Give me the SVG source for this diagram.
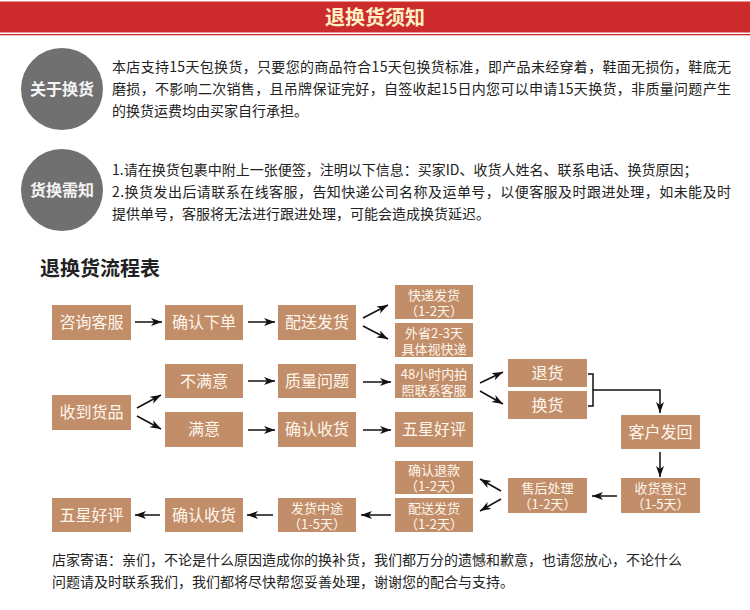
<svg xmlns="http://www.w3.org/2000/svg" width="750" height="610" viewBox="0 0 750 610">
<defs>
<marker id="ah" markerUnits="userSpaceOnUse" markerWidth="12" markerHeight="9" refX="11" refY="4" orient="auto">
<path d="M0,0 L11,4 L0,8 L3,4 Z" fill="#111"/>
</marker>
<style>
text{font-family:"Noto Sans CJK SC","Liberation Sans",sans-serif;}
.box{fill:#c28e6a;}
.bt{fill:#fff6ec;font-size:16px;text-anchor:middle;}
.bs{fill:#fff6ec;font-size:13px;text-anchor:middle;}
.p{fill:#222;font-size:14px;}
.ct{fill:#f4f4f4;font-size:16px;font-weight:bold;text-anchor:middle;}
.cir{fill:#707070;}
.c{stroke:#111;stroke-width:1.5;fill:none;}
.ca{stroke:#111;stroke-width:1.5;fill:none;marker-end:url(#ah);}
</style>
</defs>
<rect width="750" height="610" fill="#ffffff"/>
<g id="header">
<rect x="0" y="1.5" width="750" height="31" fill="#cc2a2c"/>
<rect x="0" y="34" width="750" height="1.3" fill="#cc2a2c"/>
<text x="375" y="25" font-size="20" font-weight="bold" fill="#fff1c4" text-anchor="middle">退换货须知</text>
</g>
<g id="about">
<circle class="cir" cx="62" cy="89" r="41"/>
<text class="ct" x="62" y="95">关于换货</text>
<text class="p" x="112" y="72" textLength="619">本店支持15天包换货，只要您的商品符合15天包换货标准，即产品未经穿着，鞋面无损伤，鞋底无</text>
<text class="p" x="112" y="94" textLength="619">磨损，不影响二次销售，且吊牌保证完好，自签收起15日内您可以申请15天换货，非质量问题产生</text>
<text class="p" x="112" y="116">的换货运费均由买家自行承担。</text>
</g>
<g id="notice">
<circle class="cir" cx="62" cy="190" r="41"/>
<text class="ct" x="62" y="196">货换需知</text>
<text class="p" x="112" y="175">1.请在换货包裹中附上一张便签，注明以下信息：买家ID、收货人姓名、联系电话、换货原因；</text>
<text class="p" x="112" y="197" textLength="619">2.换货发出后请联系在线客服，告知快递公司名称及运单号，以便客服及时跟进处理，如未能及时</text>
<text class="p" x="112" y="219">提供单号，客服将无法进行跟进处理，可能会造成换货延迟。</text>
</g>
<text id="flow-title" x="40" y="276" font-size="20" font-weight="bold" fill="#222">退换货流程表</text>
<g id="connectors">
<line class="ca" x1="135" y1="322" x2="162" y2="322"/>
<line class="ca" x1="248" y1="322" x2="275" y2="322"/>
<line class="ca" x1="363" y1="318" x2="388" y2="305"/>
<line class="ca" x1="363" y1="326" x2="388" y2="339"/>
<line class="ca" x1="137" y1="408" x2="161" y2="395"/>
<line class="ca" x1="137" y1="416" x2="161" y2="429"/>
<line class="ca" x1="248" y1="381" x2="275" y2="381"/>
<line class="ca" x1="363" y1="382" x2="391" y2="382"/>
<line class="ca" x1="248" y1="430" x2="275" y2="430"/>
<line class="ca" x1="363" y1="430" x2="391" y2="430"/>
<line class="ca" x1="480" y1="383" x2="503" y2="372"/>
<line class="ca" x1="480" y1="391" x2="503" y2="404"/>
<path class="c" d="M588,374 H593 V406 H588"/>
<path class="ca" d="M593,390 H660 V413"/>
<line class="ca" x1="660" y1="452" x2="660" y2="477"/>
<line class="ca" x1="617" y1="496" x2="592" y2="496"/>
<line class="ca" x1="501" y1="491" x2="480" y2="479"/>
<line class="ca" x1="501" y1="499" x2="480" y2="511"/>
<line class="ca" x1="391" y1="515" x2="361" y2="515"/>
<line class="ca" x1="273" y1="515" x2="247" y2="515"/>
<line class="ca" x1="160" y1="515" x2="135" y2="515"/>
</g>
<g id="n1"><rect class="box" x="52" y="305" width="79" height="35"/><text class="bt" x="91.5" y="328">咨询客服</text></g>
<g id="n2"><rect class="box" x="165" y="305" width="78" height="35"/><text class="bt" x="204" y="328">确认下单</text></g>
<g id="n3"><rect class="box" x="278" y="305" width="78" height="35"/><text class="bt" x="317" y="328">配送发货</text></g>
<g id="n4"><rect class="box" x="395" y="285" width="78" height="34"/><text class="bs" x="434" y="300">快递发货</text><text class="bs" x="434" y="316">（1-2天）</text></g>
<g id="n5"><rect class="box" x="395" y="323" width="78" height="34"/><text class="bs" x="434" y="338">外省2-3天</text><text class="bs" x="434" y="354">具体视快递</text></g>
<g id="n6"><rect class="box" x="52" y="395" width="79" height="35"/><text class="bt" x="91.5" y="418">收到货品</text></g>
<g id="n7"><rect class="box" x="165" y="364" width="78" height="34"/><text class="bt" x="204" y="387">不满意</text></g>
<g id="n8"><rect class="box" x="278" y="364" width="78" height="34"/><text class="bt" x="317" y="387">质量问题</text></g>
<g id="n9"><rect class="box" x="395" y="364" width="78" height="34"/><text class="bs" x="434" y="379">48小时内拍</text><text class="bs" x="434" y="395">照联系客服</text></g>
<g id="n10"><rect class="box" x="165" y="412" width="78" height="35"/><text class="bt" x="204" y="435">满意</text></g>
<g id="n11"><rect class="box" x="278" y="412" width="78" height="35"/><text class="bt" x="317" y="435">确认收货</text></g>
<g id="n12"><rect class="box" x="395" y="412" width="78" height="35"/><text class="bt" x="434" y="435">五星好评</text></g>
<g id="n13"><rect class="box" x="508" y="359" width="79" height="28"/><text class="bt" x="547.5" y="379">退货</text></g>
<g id="n14"><rect class="box" x="508" y="391" width="79" height="28"/><text class="bt" x="547.5" y="411">换货</text></g>
<g id="n15"><rect class="box" x="621" y="415" width="79" height="34"/><text class="bt" x="660.5" y="438">客户发回</text></g>
<g id="n16"><rect class="box" x="621" y="478" width="79" height="35"/><text class="bs" x="660.5" y="493">收货登记</text><text class="bs" x="660.5" y="509">（1-5天）</text></g>
<g id="n17"><rect class="box" x="508" y="478" width="79" height="35"/><text class="bs" x="547.5" y="493">售后处理</text><text class="bs" x="547.5" y="509">（1-2天）</text></g>
<g id="n18"><rect class="box" x="395" y="461" width="78" height="33"/><text class="bs" x="434" y="475">确认退款</text><text class="bs" x="434" y="491">（1-2天）</text></g>
<g id="n19"><rect class="box" x="395" y="498" width="78" height="34"/><text class="bs" x="434" y="513">配送发货</text><text class="bs" x="434" y="529">（1-2天）</text></g>
<g id="n20"><rect class="box" x="278" y="498" width="78" height="34"/><text class="bs" x="317" y="513">发货中途</text><text class="bs" x="317" y="529">（1-5天）</text></g>
<g id="n21"><rect class="box" x="165" y="498" width="78" height="34"/><text class="bt" x="204" y="521">确认收货</text></g>
<g id="n22"><rect class="box" x="52" y="498" width="79" height="34"/><text class="bt" x="91.5" y="521">五星好评</text></g>
<g id="footer">
<text class="p" x="52" y="565">店家寄语：亲们，不论是什么原因造成你的换补货，我们都万分的遗憾和歉意，也请您放心，不论什么</text>
<text class="p" x="52" y="587">问题请及时联系我们，我们都将尽快帮您妥善处理，谢谢您的配合与支持。</text>
</g>
</svg>
